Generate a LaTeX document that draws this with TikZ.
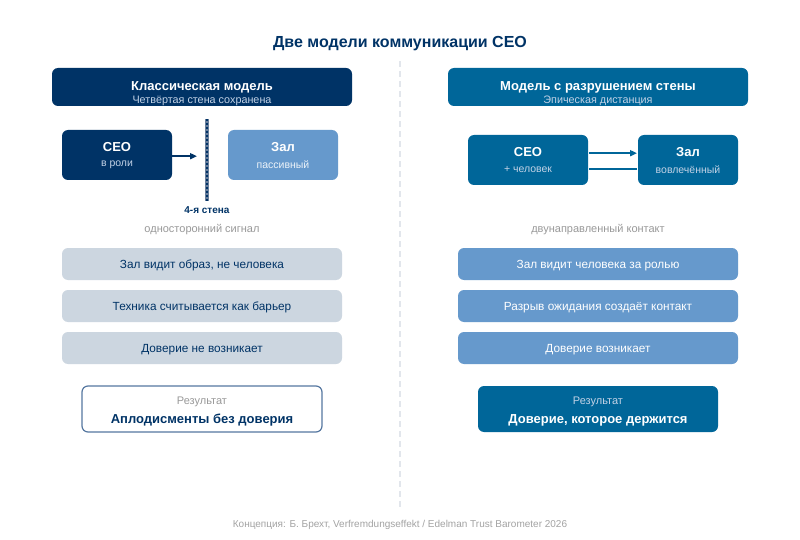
\documentclass[tikz,border=0pt]{standalone}
\usepackage{fontspec}
\setmainfont{Liberation Sans}
\usetikzlibrary{arrows.meta}
\definecolor{navy}{HTML}{003366}
\definecolor{teal}{HTML}{006699}
\definecolor{lblue}{HTML}{6699CC}
\definecolor{lgrey}{HTML}{CCD6E0}
\definecolor{subtxt}{HTML}{C2D2E6}
\definecolor{greytxt}{HTML}{999999}
\definecolor{divc}{HTML}{E2E6EC}
\definecolor{wallc}{HTML}{6A7F9C}
\definecolor{resborder}{HTML}{5577A0}
\tikzset{
  px/.style={x=1pt,y=-1pt},
  box/.style={rounded corners=6pt},
  ttl/.style={font=\bfseries\fontsize{13}{15}\selectfont, text=white},
  sub/.style={font=\fontsize{10.8}{12}\selectfont, text=subtxt},
  lbl/.style={font=\fontsize{11}{13}\selectfont, text=greytxt},
  bul/.style={font=\fontsize{11.8}{14}\selectfont},
}
\begin{document}
\begin{tikzpicture}[px, every node/.append style={yshift=-1.2pt}]
\useasboundingbox (0,0) rectangle (800,540);
\fill[white] (0,0) rectangle (800,540);
% title
\node[font=\bfseries\fontsize{16}{19}\selectfont, text=navy] (title) at (400,42) {Две модели коммуникации CEO};
% divider
\coordinate (dtop) at (400,60);
\coordinate (dbot) at (400,506);
\draw[divc, line width=1.5pt, dash pattern=on 6pt off 4pt] (dtop) -- (dbot);

% ---------- left ----------
\fill[box, navy] (52,68) rectangle (352,106);
\node[ttl] (lh) at (202,86) {Классическая модель};
\node[sub] (lhs) at (202,99.5) {Четвёртая стена сохранена};

\fill[box, navy] (62,130) rectangle (172,180);
\coordinate (lceo) at (172,155);
\node[ttl] (lceot) at (117,146) {CEO};
\node[sub, font=\fontsize{10.5}{12}\selectfont] (lceos) at (117,163.5) {в роли};

\fill[box, lblue] (228,130) rectangle (338,180);
\node[ttl] (lzalt) at (283,146) {Зал};
\node[sub, font=\fontsize{10.5}{12}\selectfont, text=white!88!lblue] (lzals) at (283,163.5) {пассивный};

\coordinate (warrow) at (197,155);
\draw[navy, line width=2pt, -{Triangle[length=7pt,width=6pt]}] (lceo) -- (warrow);

\coordinate (wtop) at (207,118);
\coordinate (wbot) at (207,200);
\draw[wallc, line width=3.5pt] (wtop) -- (wbot);
\draw[navy, line width=1.3pt, dash pattern=on 2pt off 2pt] (wtop) -- (wbot);
\node[font=\bfseries\fontsize{10}{12}\selectfont, text=navy] (wlbl) at (207,209) {4-я стена};
\node[lbl] (lsig) at (202,228) {односторонний сигнал};

\fill[box, lgrey] (62,248) rectangle (342,280);
\node[bul, text=navy] (lb1) at (202,264) {Зал видит образ, не человека};
\fill[box, lgrey] (62,290) rectangle (342,322);
\node[bul, text=navy] (lb2) at (202,306) {Техника считывается как барьер};
\fill[box, lgrey] (62,332) rectangle (342,364);
\node[bul, text=navy] (lb3) at (202,348) {Доверие не возникает};

\draw[box, draw=resborder, fill=white, line width=1.2pt] (82,386) rectangle (322,432);
\node[lbl] (lres) at (202,401) {Результат};
\node[font=\bfseries\fontsize{13}{15}\selectfont, text=navy] (lrest) at (202,419) {Аплодисменты без доверия};

% ---------- right ----------
\fill[box, teal] (448,68) rectangle (748,106);
\node[ttl] (rh) at (598,86) {Модель с разрушением стены};
\node[sub] (rhs) at (598,99.5) {Эпическая дистанция};

\fill[box, teal] (468,135) rectangle (588,185);
\node[ttl] (rceot) at (528,151) {CEO};
\node[sub, font=\fontsize{10.5}{12}\selectfont] (rceos) at (528,168.5) {+ человек};

\fill[box, teal] (638,135) rectangle (738,185);
\node[ttl] (rzalt) at (688,151) {Зал};
\node[sub, font=\fontsize{10.5}{12}\selectfont] (rzals) at (688,168.5) {вовлечённый};

\coordinate (ra1) at (589,152);
\coordinate (ra2) at (637,152);
\coordinate (rb1) at (589,167.5);
\coordinate (rb2) at (637,167.5);
\draw[teal, line width=2pt, -{Triangle[length=7pt,width=6pt]}] (ra1) -- (ra2);
\draw[teal, line width=2pt] (rb2) -- (rb1);
\node[lbl] (rsig) at (598,228) {двунаправленный контакт};

\fill[box, lblue] (458,248) rectangle (738,280);
\node[bul, text=white] (rb1t) at (598,264) {Зал видит человека за ролью};
\fill[box, lblue] (458,290) rectangle (738,322);
\node[bul, text=white] (rb2t) at (598,306) {Разрыв ожидания создаёт контакт};
\fill[box, lblue] (458,332) rectangle (738,364);
\node[bul, text=white] (rb3t) at (598,348) {Доверие возникает};

\fill[box, teal] (478,386) rectangle (718,432);
\node[lbl, text=subtxt] (rres) at (598,401) {Результат};
\node[font=\bfseries\fontsize{13}{15}\selectfont, text=white] (rrest) at (598,419) {Доверие, которое держится};

% footer
\node[font=\fontsize{10}{12}\selectfont, text=greytxt!90!white] (foot) at (400,524) {Концепция: Б. Брехт, Verfremdungseffekt / Edelman Trust Barometer 2026};
\end{tikzpicture}
\end{document}
